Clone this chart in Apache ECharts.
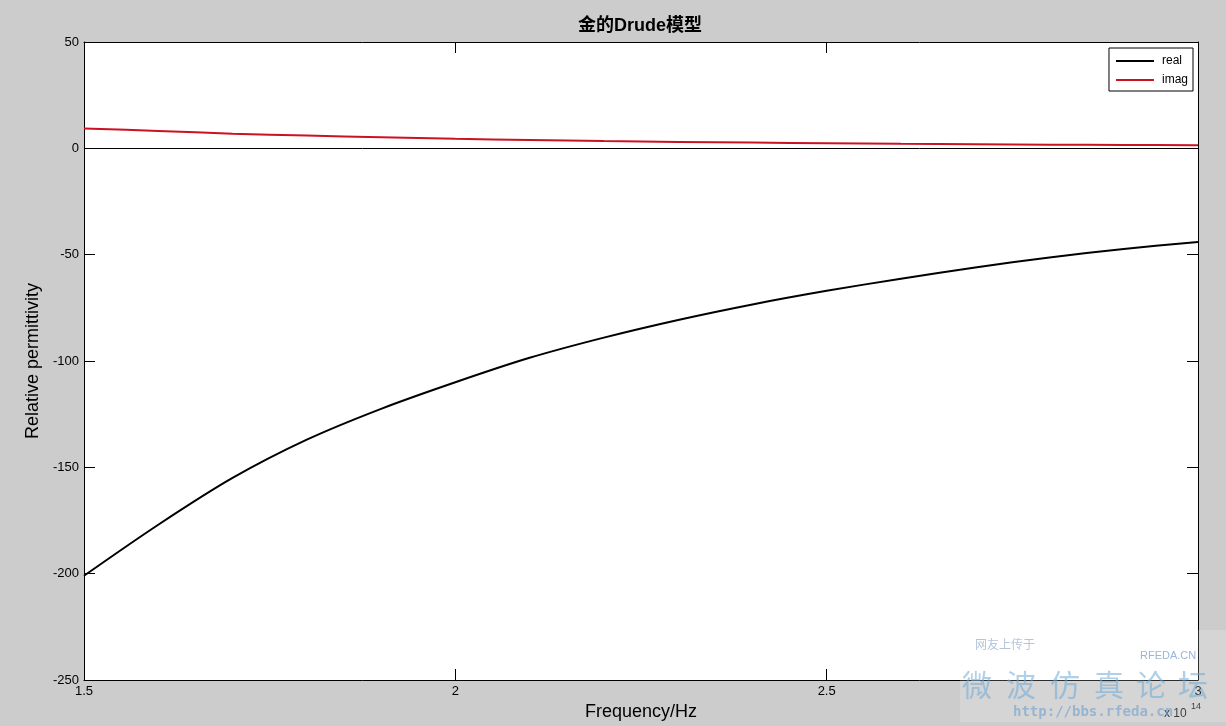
<!DOCTYPE html>
<html>
<head>
<meta charset="utf-8">
<script src="https://cdn.jsdelivr.net/npm/echarts@6/dist/echarts.min.js"></script>
<style>
html,body{margin:0;padding:0;background:#cccccc;}
#c{width:1226px;height:726px;}
</style>
</head>
<body>
<div id="c"></div>
<script>
// Frequency in units of 1e14 Hz
var freq = [1.5, 1.6, 1.7, 1.8, 1.9, 2.0, 2.1, 2.2, 2.3, 2.4, 2.5, 2.6, 2.7, 2.8, 2.9, 3.0];
var realPart = [-201, -177, -155, -137, -122.5, -110, -98.5, -89, -80.7, -73.4, -67, -61.3, -56, -51.3, -47.3, -44];
var imagPart = [9.3, 8.2, 6.9, 6.0, 5.2, 4.5, 3.9, 3.4, 3.0, 2.7, 2.4, 2.1, 1.9, 1.7, 1.6, 1.5];
var xTicks = [1.5, 2, 2.5, 3];
var yTicks = [-250, -200, -150, -100, -50, 0, 50];
var seriesNames = ['real', 'imag'];

function pairs(xs, ys) { return xs.map(function (x, i) { return [x, ys[i]]; }); }

var FONT = '"Liberation Sans", Arial, "Noto Sans CJK SC", sans-serif';
var chart = echarts.init(document.getElementById('c'), null, {renderer: 'canvas'});

var tickStyle = {show: true, inside: true, length: 11, lineStyle: {color: '#000', width: 1}};
var lineAxis = {show: true, onZero: false, lineStyle: {color: '#000', width: 1}};

chart.setOption({
  backgroundColor: '#cccccc',
  animation: false,
  title: {
    text: '金的Drude模型',
    left: 573, top: 12,
    textStyle: {fontFamily: FONT, fontSize: 18, fontWeight: 'bold', color: '#000'}
  },
  legend: {
    data: seriesNames,
    orient: 'vertical',
    right: 33, top: 48,
    backgroundColor: '#fff',
    borderColor: '#000', borderWidth: 1, borderRadius: 0,
    padding: [6, 5, 4, 7],
    itemWidth: 38, itemHeight: 2, itemGap: 5,
    icon: 'rect',
    textStyle: {fontFamily: FONT, fontSize: 12, color: '#000', lineHeight: 14, padding: [0, 0, 0, 3]}
  },
  grid: {left: 84, right: 28, top: 42, bottom: 46, show: true, backgroundColor: '#fff', borderWidth: 0},
  xAxis: [{
    type: 'value', min: xTicks[0], max: xTicks[xTicks.length - 1], interval: 0.5,
    position: 'bottom',
    name: 'Frequency/Hz', nameLocation: 'middle', nameGap: 23,
    nameTextStyle: {fontFamily: FONT, fontSize: 18, color: '#000'},
    axisLine: lineAxis, axisTick: tickStyle,
    axisLabel: {fontFamily: FONT, fontSize: 13, color: '#000', margin: 5},
    splitLine: {show: false}
  }, {
    type: 'value', min: xTicks[0], max: xTicks[xTicks.length - 1], interval: 0.5,
    position: 'top',
    axisLine: lineAxis, axisTick: tickStyle,
    axisLabel: {show: false}, splitLine: {show: false}
  }],
  yAxis: [{
    type: 'value', min: yTicks[0], max: yTicks[yTicks.length - 1], interval: 50,
    position: 'left',
    name: 'Relative permittivity', nameLocation: 'middle', nameGap: 33, nameRotate: 90,
    nameTextStyle: {fontFamily: FONT, fontSize: 18, color: '#000'},
    axisLine: lineAxis, axisTick: tickStyle,
    axisLabel: {fontFamily: FONT, fontSize: 13, color: '#000', margin: 5},
    splitLine: {show: false}
  }, {
    type: 'value', min: yTicks[0], max: yTicks[yTicks.length - 1], interval: 50,
    position: 'right',
    axisLine: lineAxis, axisTick: tickStyle,
    axisLabel: {show: false}, splitLine: {show: false}
  }],
  series: [{
    name: seriesNames[0], type: 'line',
    data: pairs(freq, realPart),
    smooth: 0.3,
    showSymbol: false, symbol: 'none',
    lineStyle: {color: '#000', width: 2},
    itemStyle: {color: '#000'},
    markLine: {
      silent: true, symbol: 'none',
      label: {show: false},
      lineStyle: {color: '#000', width: 1, type: 'solid'},
      data: [{yAxis: 0}]
    },
    z: 3
  }, {
    name: seriesNames[1], type: 'line',
    data: pairs(freq, imagPart),
    smooth: 0.3,
    showSymbol: false, symbol: 'none',
    lineStyle: {color: '#cc1122', width: 2},
    itemStyle: {color: '#cc1122'},
    z: 3
  }],
  graphic: [
    {type: 'text', left: 1164, top: 708, style: {text: 'x 10', font: '12px ' + FONT, fill: '#111'}},
    {type: 'text', left: 1191, top: 702, style: {text: '14', font: '9px ' + FONT, fill: '#111'}},
    {type: 'rect', left: 960, top: 630, z: 100, shape: {width: 266, height: 92}, style: {fill: 'rgba(255,255,255,0.18)'}},
    {type: 'text', left: 975, top: 638, z: 101, style: {text: '网友上传于', font: '12px "Noto Sans CJK SC"', fill: 'rgba(120,150,190,0.55)'}},
    {type: 'text', left: 1140, top: 650, z: 101, style: {text: 'RFEDA.CN', font: '11px ' + FONT, fill: 'rgba(110,150,200,0.7)'}},
    {type: 'text', left: 962, top: 670, z: 101, style: {text: '微', font: '30px "Noto Sans CJK SC"', fill: 'rgba(110,170,215,0.55)'}},
    {type: 'text', left: 1006, top: 670, z: 101, style: {text: '波', font: '30px "Noto Sans CJK SC"', fill: 'rgba(110,170,215,0.55)'}},
    {type: 'text', left: 1050, top: 670, z: 101, style: {text: '仿', font: '30px "Noto Sans CJK SC"', fill: 'rgba(110,170,215,0.55)'}},
    {type: 'text', left: 1094, top: 670, z: 101, style: {text: '真', font: '30px "Noto Sans CJK SC"', fill: 'rgba(110,170,215,0.55)'}},
    {type: 'text', left: 1136, top: 670, z: 101, style: {text: '论', font: '30px "Noto Sans CJK SC"', fill: 'rgba(110,170,215,0.55)'}},
    {type: 'text', left: 1178, top: 670, z: 101, style: {text: '坛', font: '30px "Noto Sans CJK SC"', fill: 'rgba(110,170,215,0.55)'}},
    {type: 'text', left: 1013, top: 705, z: 101, style: {text: 'http://bbs.rfeda.cn', font: 'bold 14px "DejaVu Sans Mono"', fill: 'rgba(110,160,205,0.6)'}}
  ]
});
</script>
</body>
</html>
